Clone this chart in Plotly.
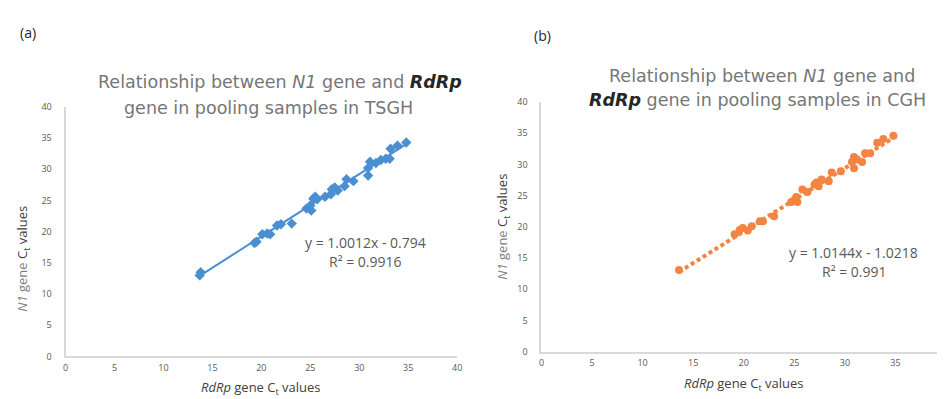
import plotly.graph_objects as go

# Panel (a) TSGH data
tsgh_rdrp = [13.7, 13.8, 19.3, 19.5, 20.1, 20.6, 20.9, 21.6, 22.0, 23.1, 24.6, 25.0, 25.1,
             25.3, 25.5, 25.7, 26.5, 27.1, 27.2, 27.5, 27.8, 28.5, 28.7, 29.4, 30.9, 30.9,
             31.1, 31.7, 32.2, 32.7, 33.1, 33.2, 33.9, 34.8]
tsgh_n1 = [13.0, 13.5, 18.2, 18.4, 19.6, 19.7, 19.6, 21.0, 21.2, 21.3, 23.7, 24.2, 23.4,
           25.3, 25.6, 25.2, 25.6, 26.0, 26.8, 27.1, 26.6, 27.3, 28.4, 28.1, 30.2, 29.0,
           31.2, 31.0, 31.5, 31.7, 31.7, 33.3, 33.8, 34.3]
tsgh_slope, tsgh_intercept = 1.0012, -0.794

# Panel (b) CGH data
cgh_rdrp = [13.6, 19.1, 19.6, 19.9, 20.4, 20.8, 21.6, 21.9, 23.0, 24.7, 25.0, 25.2, 25.3,
            25.8, 26.3, 27.0, 27.2, 27.4, 27.7, 28.4, 28.7, 29.6, 30.7, 30.9, 30.9, 31.2,
            31.7, 32.0, 32.5, 33.2, 33.8, 34.8]
cgh_n1 = [13.1, 18.8, 19.5, 19.8, 19.4, 20.1, 20.9, 20.9, 21.7, 24.0, 24.3, 24.8, 24.0,
          26.0, 25.6, 26.8, 27.1, 26.5, 27.6, 27.3, 28.7, 28.9, 30.4, 31.2, 29.4, 30.8,
          30.4, 31.8, 31.8, 33.5, 34.1, 34.6]
cgh_slope, cgh_intercept = 1.0144, -1.0218

axis_ticks = [0, 5, 10, 15, 20, 25, 30, 35, 40]

BLUE = "#4A8FD1"
ORANGE = "#F38441"
GRAY_TXT = "#767676"
DARK_TXT = "#404040"
TITLE_FONT = "DejaVu Sans"

fig = go.Figure()

# (a)
fig.add_trace(go.Scatter(x=tsgh_rdrp, y=tsgh_n1, mode="markers",
                         marker=dict(symbol="diamond", size=8, color=BLUE),
                         xaxis="x", yaxis="y", showlegend=False))
xa = [min(tsgh_rdrp), max(tsgh_rdrp)]
fig.add_trace(go.Scatter(x=xa, y=[tsgh_slope * v + tsgh_intercept for v in xa], mode="lines",
                         line=dict(color=BLUE, width=2), xaxis="x", yaxis="y", showlegend=False))

# (b)
xb = [min(cgh_rdrp), max(cgh_rdrp)]
fig.add_trace(go.Scatter(x=xb, y=[cgh_slope * v + cgh_intercept for v in xb], mode="lines",
                         line=dict(color=ORANGE, width=4, dash="4px,3px"),
                         xaxis="x2", yaxis="y2", showlegend=False))
fig.add_trace(go.Scatter(x=cgh_rdrp, y=cgh_n1, mode="markers",
                         marker=dict(symbol="circle", size=8, color=ORANGE),
                         xaxis="x2", yaxis="y2", showlegend=False))

ax_common = dict(range=[0, 40], tickvals=axis_ticks, showgrid=False, zeroline=False,
                 showline=True, linecolor="#D9D9D9", linewidth=2, ticks="",
                 tickfont=dict(size=9, color="#595959", family="Open Sans"))

fig.update_layout(
    width=945, height=399,
    margin=dict(l=0, r=0, t=0, b=0),
    paper_bgcolor="white", plot_bgcolor="white",
    font=dict(family="Open Sans", color=DARK_TXT),
    xaxis=dict(domain=[55 / 945, 450 / 945], anchor="y", ticklabelstandoff=2, **ax_common),
    yaxis=dict(domain=[(399 - 353) / 399, (399 - 95) / 399], anchor="x", ticklabelstandoff=10, **ax_common),
    xaxis2=dict(domain=[535 / 945, 943 / 945], anchor="y2", ticklabelstandoff=2, **ax_common),
    yaxis2=dict(domain=[(399 - 348) / 399, (399 - 90) / 399], anchor="x2", ticklabelstandoff=10, **ax_common),
)

def px(x, y, text, size=12, color=DARK_TXT, angle=0, family="Open Sans"):
    fig.add_annotation(x=x / 945, y=1 - y / 399, xref="paper", yref="paper", text=text,
                       showarrow=False, font=dict(size=size, color=color, family=family),
                       textangle=angle, xanchor="center", yanchor="middle")

# panel labels
px(17, 18, "(a)", size=14, color="#262626")
px(536, 21, "(b)", size=14, color="#262626")

# titles
px(271, 69, "Relationship between <i>N1</i> gene and <b><i><span style='color:#262626'>RdRp</span></i></b>",
   size=17.5, color=GRAY_TXT, family=TITLE_FONT)
px(260, 96, "gene in pooling samples in TSGH", size=17.5, color=GRAY_TXT, family=TITLE_FONT)
px(757, 63, "Relationship between <i>N1</i> gene and", size=17.5, color=GRAY_TXT, family=TITLE_FONT)
px(753, 88, "<b><i><span style='color:#262626'>RdRp</span></i></b> gene in pooling samples in CGH",
   size=17.5, color=GRAY_TXT, family=TITLE_FONT)

# axis titles
px(252, 386, "<i>RdRp</i> gene C<sub>t</sub> values", size=13)
px(739, 381, "<i>RdRp</i> gene C<sub>t</sub> values", size=13)
px(12, 252, "<span style='color:#7F7F7F'><i>N1</i> gene</span> C<sub>t</sub> values", size=13, angle=-90)
px(496, 219, "<span style='color:#7F7F7F'><i>N1</i> gene</span> C<sub>t</sub> values", size=13, angle=-90)

# equations
px(358, 235, "y = 1.0012x - 0.794", size=14, color="#595959")
px(358, 255, "R² = 0.9916", size=14, color="#595959")
px(850, 245, "y = 1.0144x - 1.0218", size=14, color="#595959")
px(850, 265, "R² = 0.991", size=14, color="#595959")

fig.write_html("out.html")
